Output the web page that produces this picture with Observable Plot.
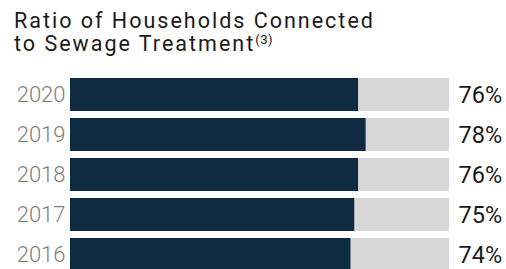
<!DOCTYPE html>
<html>
<head>
<meta charset="utf-8">
<script src="https://cdn.jsdelivr.net/npm/d3@7"></script>
<script src="https://cdn.jsdelivr.net/npm/@observablehq/plot@0.6"></script>
<style>
  html, body { margin: 0; padding: 0; background: #fff; overflow: hidden; }
  #title {
    font-family: Roboto, sans-serif;
    font-size: 21.5px;
    line-height: 23px;
    letter-spacing: 2px;
    color: #1a1a1a;
    padding: 9px 0 0 14px;
    height: 61px;
    box-sizing: content-box;
    white-space: nowrap;
  }
  #title sup { font-size: 13px; line-height: 0; vertical-align: 7px; letter-spacing: 0.5px; }
  #chart svg { display: block; }
</style>
</head>
<body>
<div id="title">Ratio of Households Connected<br>to Sewage Treatment<sup>(3)</sup></div>
<div id="chart"></div>
<script>
const years = ["2020", "2019", "2018", "2017", "2016"];
const values = [76, 78, 76, 75, 74];
const labels = ["76%", "78%", "76%", "75%", "74%"];

const data = years.map((y, i) => ({year: y, value: values[i], label: labels[i], full: 100}));

const chart = Plot.plot({
  width: 506,
  height: 202,
  marginTop: 7,
  marginBottom: 0,
  marginLeft: 70,
  marginRight: 57,
  style: {fontFamily: "Roboto, sans-serif", background: "#fff"},
  x: {domain: [0, 100], axis: null},
  y: {domain: years, paddingInner: 0.185, paddingOuter: 0, axis: null},
  marks: [
    Plot.barX(data, {y: "year", x: "full", fill: "#d7d7d7"}),
    Plot.barX(data, {y: "year", x: "value", fill: "#0e2a40"}),
    Plot.text(data, {y: "year", x: 0, text: "year", textAnchor: "end", dx: -5, fill: "#7e7e7e", fontSize: 22, fontWeight: 300}),
    Plot.text(data, {y: "year", x: "full", text: "label", textAnchor: "start", dx: 9, fill: "#1a1a1a", fontSize: 23.5})
  ]
});
document.getElementById("chart").appendChild(chart);
</script>
</body>
</html>
